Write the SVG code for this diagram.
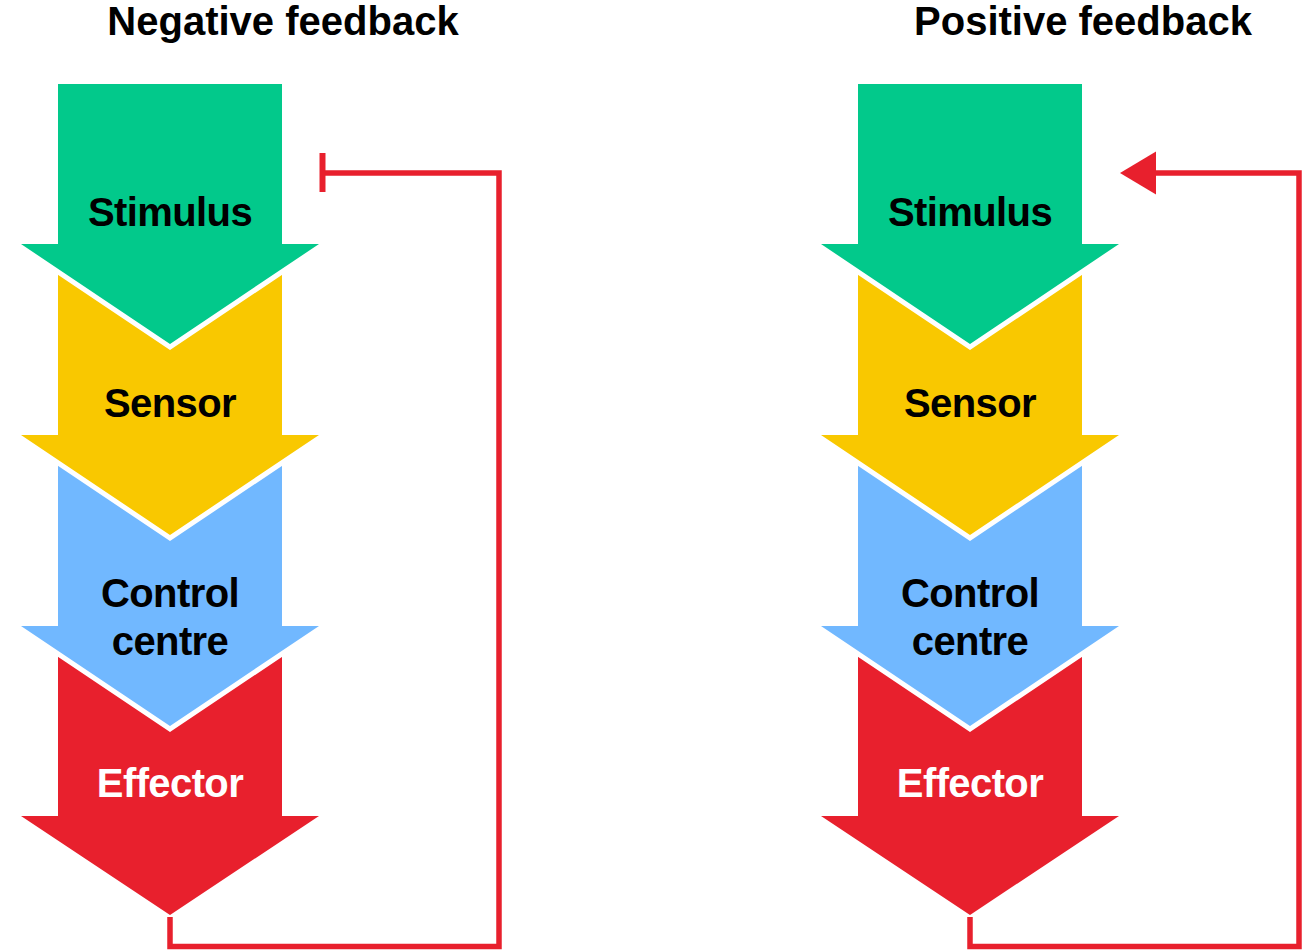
<svg xmlns="http://www.w3.org/2000/svg" width="1302" height="950" viewBox="0 0 1302 950">
<style>
.arr{stroke:#ffffff;stroke-width:10;stroke-linejoin:miter;stroke-miterlimit:10;paint-order:stroke}
.g{fill:#02C98B}.y{fill:#F9C800}.b{fill:#71B8FF}.r{fill:#E8202D}
.lbl{font-family:"Liberation Sans",Arial,Helvetica,sans-serif;font-weight:bold;font-size:40px;letter-spacing:-0.6px;text-anchor:middle;fill:#000000}
.wht{fill:#ffffff}
.ttl{font-family:"Liberation Sans",Arial,Helvetica,sans-serif;font-weight:bold;font-size:40px;text-anchor:middle;fill:#000000}
.fb{fill:none;stroke:#E8202D;stroke-width:5.5;stroke-linejoin:miter}
</style>
<defs>
<polygon id="stimShape" points="58,84 282,84 282,244 319,244 170,344 21,244 58,244"/>
<polygon id="sensShape" points="58,260 282,260 282,435 319,435 170,535 21,435 58,435"/>
<polygon id="ctrlShape" points="58,450 282,450 282,626 319,626 170,726 21,626 58,626"/>
<polygon id="effShape" points="58,640 282,640 282,816 319,816 170,915 21,816 58,816"/>
</defs>
<g id="titles">
<text class="ttl" x="283" y="35">Negative feedback</text>
<text class="ttl" x="1083" y="35">Positive feedback</text>
</g>
<g id="neg-effector"><use href="#effShape" class="arr r"/><text class="lbl wht" x="170" y="797">Effector</text></g>
<g id="neg-control"><use href="#ctrlShape" class="arr b"/><text class="lbl" x="170" y="607">Control</text><text class="lbl" x="170" y="655">centre</text></g>
<g id="neg-sensor"><use href="#sensShape" class="arr y"/><text class="lbl" x="170" y="417">Sensor</text></g>
<g id="neg-stimulus"><use href="#stimShape" class="arr g"/><text class="lbl" x="170" y="226">Stimulus</text></g>
<g id="pos-effector" transform="translate(800,0)"><use href="#effShape" class="arr r"/><text class="lbl wht" x="170" y="797">Effector</text></g>
<g id="pos-control" transform="translate(800,0)"><use href="#ctrlShape" class="arr b"/><text class="lbl" x="170" y="607">Control</text><text class="lbl" x="170" y="655">centre</text></g>
<g id="pos-sensor" transform="translate(800,0)"><use href="#sensShape" class="arr y"/><text class="lbl" x="170" y="417">Sensor</text></g>
<g id="pos-stimulus" transform="translate(800,0)"><use href="#stimShape" class="arr g"/><text class="lbl" x="170" y="226">Stimulus</text></g>
<g id="connectors">
<path class="fb" d="M170,917 V946.5 H499 V173 H322.5"/>
<path class="fb" d="M322.5,153 V192" style="stroke-width:6"/>
<path class="fb" d="M970,917 V946.5 H1299 V173 H1150"/>
<polygon points="1120,173 1156,151.5 1156,194.5" fill="#E8202D"/>
</g>
</svg>
